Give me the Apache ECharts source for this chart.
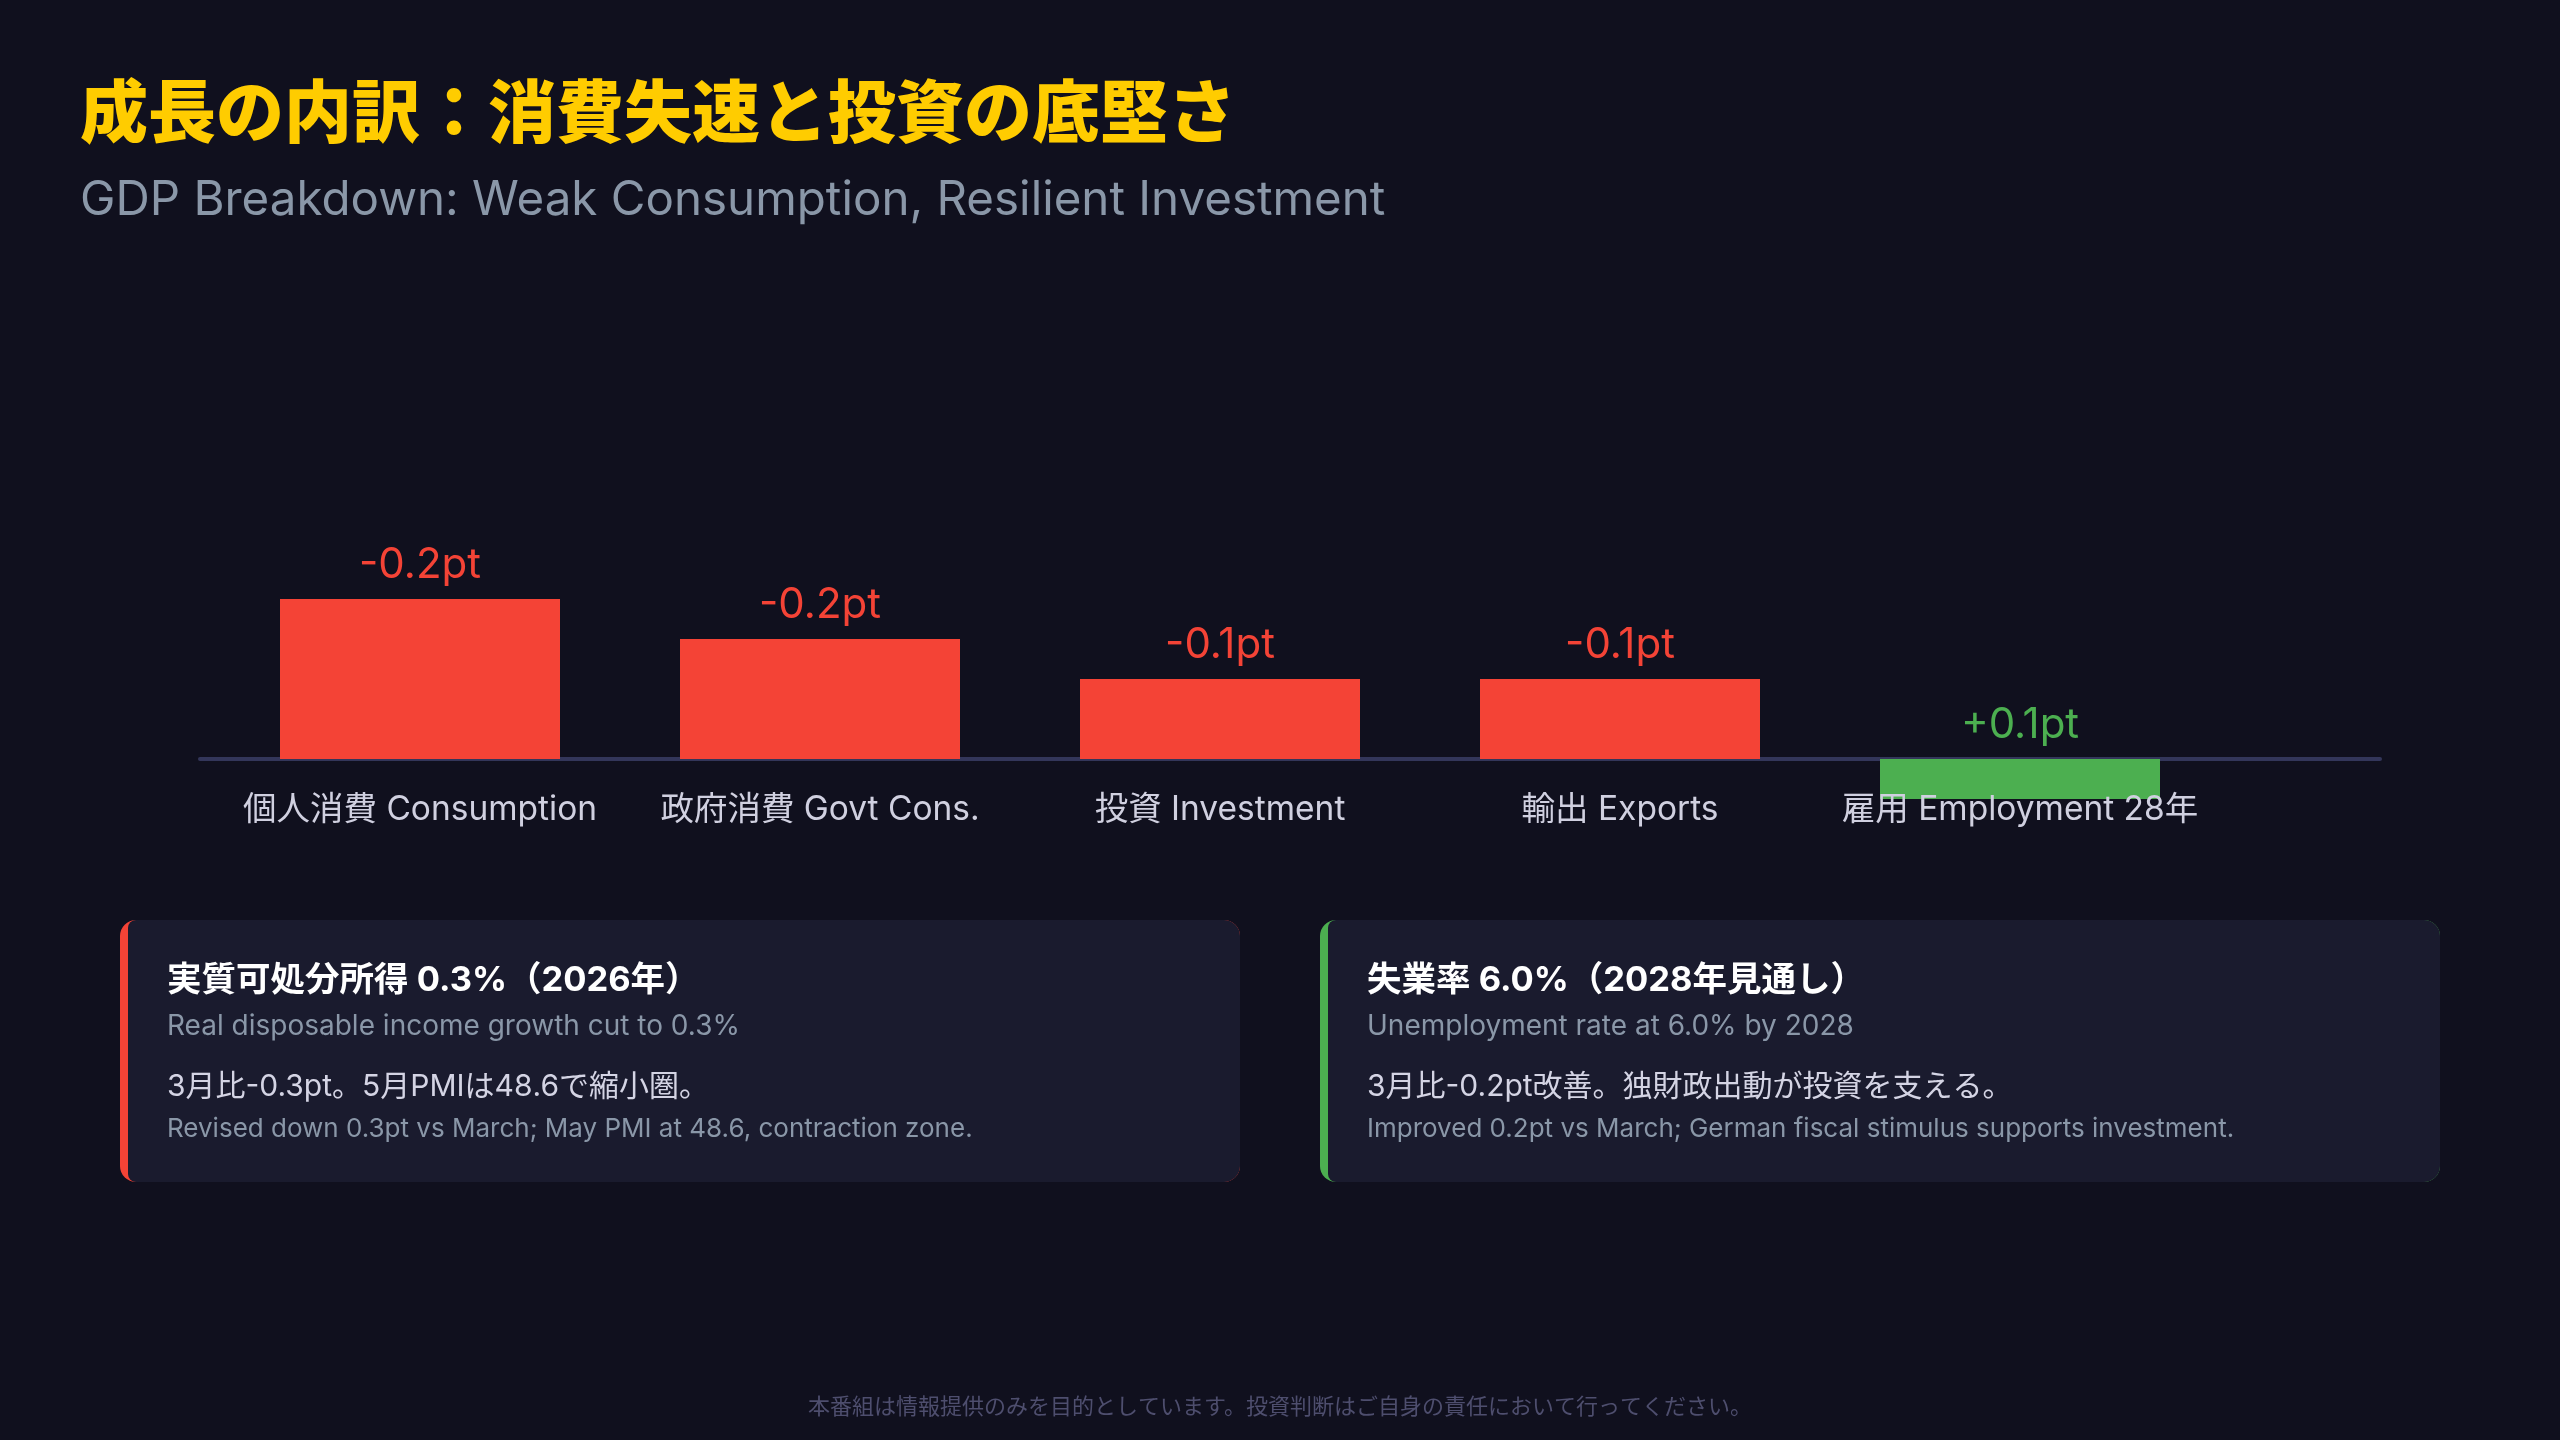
<!DOCTYPE html>
<html><head><meta charset="utf-8">
<script src="https://cdn.jsdelivr.net/npm/echarts@6/dist/echarts.min.js"></script>
<style>html,body{margin:0;padding:0;background:#10101e;}#c{width:2560px;height:1440px;}</style>
</head><body><div id="c"></div>
<script>
const categories = ['個人消費 Consumption','政府消費 Govt Cons.','投資 Investment','輸出 Exports','雇用 Employment 28年'];
const values = [-0.2, -0.15, -0.1, -0.1, 0.05];
const valueLabels = ['-0.2pt','-0.2pt','-0.1pt','-0.1pt','+0.1pt'];
const titleText = '成長の内訳：消費失速と投資の底堅さ';
const subtitleText = 'GDP Breakdown: Weak Consumption, Resilient Investment';
const cardLeft = ['実質可処分所得 0.3%（2026年）','Real disposable income growth cut to 0.3%','3月比-0.3pt。5月PMIは48.6で縮小圏。','Revised down 0.3pt vs March; May PMI at 48.6, contraction zone.'];
const cardRight = ['失業率 6.0%（2028年見通し）','Unemployment rate at 6.0% by 2028','3月比-0.2pt改善。独財政出動が投資を支える。','Improved 0.2pt vs March; German fiscal stimulus supports investment.'];
const footer = '本番組は情報提供のみを目的としています。投資判断はご自身の責任において行ってください。';

const RED = '#f44336', GREEN = '#4caf50';
const FONT = 'Inter, "Noto Sans CJK JP", sans-serif';
const FONT_CJK = '"Noto Sans CJK JP", sans-serif';

function card(x, color, lines) {
  return [
    {type:'rect', shape:{x:x, y:920, width:1120, height:262, r:16}, style:{fill:color}},
    {type:'rect', shape:{x:x+8, y:920, width:1112, height:262, r:[8,16,16,8]}, style:{fill:'#1a1b2e'}},
    {type:'text', x:x+47, y:981, style:{text:lines[0], font:'bold 34.5px '+FONT, fill:'#ffffff', verticalAlign:'middle'}},
    {type:'text', x:x+47, y:1027, style:{text:lines[1], font:'28px '+FONT, fill:'#8a97a8', verticalAlign:'middle'}},
    {type:'text', x:x+47, y:1087, style:{text:lines[2], font:'30px '+FONT, fill:'#d4d4e4', verticalAlign:'middle'}},
    {type:'text', x:x+47, y:1129, style:{text:lines[3], font:'26px '+FONT, fill:'#8a97a8', verticalAlign:'middle'}}
  ];
}

const chart = echarts.init(document.getElementById('c'));
chart.setOption({
  backgroundColor:'#10101e',
  animation:false,
  grid:[
    {left:220, right:340, top:439, bottom:681},
    {left:200, right:180, top:439, bottom:681}
  ],
  xAxis:[
    {type:'category', gridIndex:0, data:categories, axisLine:{show:false}, axisTick:{show:false}, z:10,
     axisLabel:{color:'#d0d0e0', fontSize:33.5, fontFamily:FONT, margin:34, interval:0}},
    {type:'category', gridIndex:1, data:[''], axisLine:{show:true, lineStyle:{color:'#33365a', width:4}}, axisTick:{show:false}, axisLabel:{show:false}, z:0}
  ],
  yAxis:[
    {type:'value', gridIndex:0, min:-0.4, max:0, inverse:true, show:false, splitLine:{show:false}},
    {type:'value', gridIndex:1, min:-0.4, max:0, inverse:true, show:false, splitLine:{show:false}}
  ],
  series:[{
    type:'bar', xAxisIndex:0, yAxisIndex:0, barWidth:'70%', z:5, clip:false,
    data: values.map(v => ({value:v, itemStyle:{color: v < 0 ? RED : GREEN}})),
    label:{show:true, position:'top', distance:13, fontSize:42, fontFamily:FONT,
      formatter: p => valueLabels[p.dataIndex],
      color: 'inherit'}
  }],
  graphic:[
    {type:'text', x:80, y:111, style:{text:titleText, font:'900 68px '+FONT_CJK, fill:'#ffcc00', verticalAlign:'middle'}},
    {type:'text', x:80, y:201, style:{text:subtitleText, font:'47.5px '+FONT, fill:'#8a97a8', verticalAlign:'middle'}},
    ...card(120, RED, cardLeft),
    ...card(1320, GREEN, cardRight),
    {type:'text', x:1280, y:1406, style:{text:footer, font:'22px '+FONT_CJK, fill:'#4e4e6e', align:'center', verticalAlign:'middle'}}
  ]
});
</script></body></html>
